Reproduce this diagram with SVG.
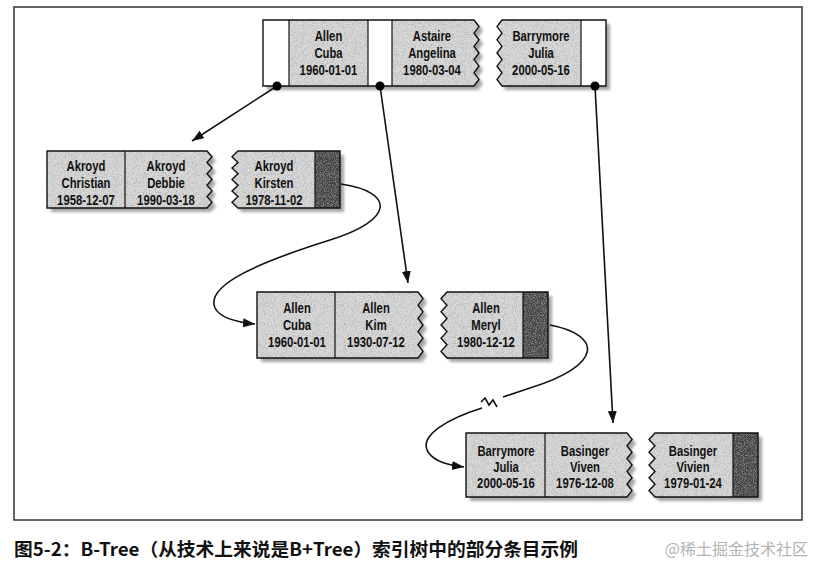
<svg xmlns="http://www.w3.org/2000/svg" xmlns:xlink="http://www.w3.org/1999/xlink" width="816" height="562" viewBox="0 0 816 562">
<style>
.t{font-family:"Liberation Sans","Arimo",sans-serif;font-weight:bold;font-size:15.5px;fill:#111;text-anchor:middle}
.lt{fill:#d8d8d8;filter:url(#grain)}
.dk{fill:#454545;filter:url(#grain)}
.wh{fill:#fff}
.ol{fill:none;stroke:#111;stroke-width:1.4;stroke-linejoin:miter}
.dv{stroke:#111;stroke-width:1.2}
.sh{fill:#a4a4a4;filter:url(#blur)}
.cn{fill:none;stroke:#111;stroke-width:1.6}
</style>
<defs>
<filter id="grain" x="0" y="0" width="1" height="1">
<feTurbulence type="fractalNoise" baseFrequency="1.1" numOctaves="1" seed="4" result="n"/>
<feColorMatrix in="n" type="matrix" values="0 0 0 0 0.35  0 0 0 0 0.35  0 0 0 0 0.35  0 0 0 -2.4 1.3" result="d"/>
<feComposite in="d" in2="SourceGraphic" operator="in" result="d2"/>
<feMerge><feMergeNode in="SourceGraphic"/><feMergeNode in="d2"/></feMerge>
</filter>
<filter id="blur" x="-10%" y="-10%" width="120%" height="130%"><feGaussianBlur stdDeviation="1.6"/></filter>
<marker id="ah" markerUnits="userSpaceOnUse" markerWidth="14" markerHeight="10" refX="12" refY="4.5" orient="auto"><path d="M0,0 L12,4.5 L0,9 Z" fill="#111"/></marker>
<path id="r1a" d="M263,20 H474 L479,26.6 L474,33.2 L479,39.8 L474,46.4 L479,53 L474,59.6 L479,66.2 L474,72.8 L479,79.4 L474,86 H263 Z"/>
<path id="r1b" d="M502,20 H606 V86 H502 L497,79.4 L502,72.8 L497,66.2 L502,59.6 L497,53 L502,46.4 L497,39.8 L502,33.2 L497,26.6 Z"/>
<path id="r2a" d="M47,151 H207 L212,156.7 L207,162.4 L212,168.1 L207,173.8 L212,179.5 L207,185.2 L212,190.9 L207,196.6 L212,202.3 L207,208 H47 Z"/>
<path id="r2b" d="M238,151 H340 V208 H238 L232,202.3 L238,196.6 L232,190.9 L238,185.2 L232,179.5 L238,173.8 L232,168.1 L238,162.4 L232,156.7 Z"/>
<path id="r3a" d="M257,292 H418 L423,298.6 L418,305.2 L423,311.8 L418,318.4 L423,325 L418,331.6 L423,338.2 L418,344.8 L423,351.4 L418,358 H257 Z"/>
<path id="r3b" d="M447,292 H548 V358 H447 L441,351.4 L447,344.8 L441,338.2 L447,331.6 L441,325 L447,318.4 L441,311.8 L447,305.2 L441,298.6 Z"/>
<path id="r4a" d="M466,433 H627 L632,439.4 L627,445.8 L632,452.2 L627,458.6 L632,465 L627,471.4 L632,477.8 L627,484.2 L632,490.6 L627,497 H466 Z"/>
<path id="r4b" d="M655,433 H758 V497 H655 L649,490.6 L655,484.2 L649,477.8 L655,471.4 L649,465 L655,458.6 L649,452.2 L655,445.8 L649,439.4 Z"/>
<clipPath id="c1a"><use xlink:href="#r1a"/></clipPath>
</defs>
<rect x="14" y="7" width="788" height="513" fill="#fff" stroke="#333" stroke-width="1.5"/>

<g id="root-left">
<use xlink:href="#r1a" class="sh" transform="translate(4,4)"/>
<use xlink:href="#r1a" class="lt"/>
<g clip-path="url(#c1a)"><rect x="263" y="20" width="26" height="66" class="wh"/><rect x="368" y="20" width="24" height="66" class="wh"/></g>
<use xlink:href="#r1a" class="ol"/>
<line x1="289" y1="20" x2="289" y2="86" class="dv"/><line x1="368" y1="20" x2="368" y2="86" class="dv"/><line x1="392" y1="20" x2="392" y2="86" class="dv"/>
<text class="t" transform="matrix(0.73 0 0 1 328.5 41)">Allen</text><text class="t" transform="matrix(0.73 0 0 1 328.5 58)">Cuba</text><text class="t" transform="matrix(0.73 0 0 1 328.5 75)">1960-01-01</text>
<text class="t" transform="matrix(0.73 0 0 1 432 41)">Astaire</text><text class="t" transform="matrix(0.73 0 0 1 432 58)">Angelina</text><text class="t" transform="matrix(0.73 0 0 1 432 75)">1980-03-04</text>
</g>
<g id="root-right">
<use xlink:href="#r1b" class="sh" transform="translate(4,4)"/>
<use xlink:href="#r1b" class="lt"/>
<rect x="581" y="20" width="25" height="66" class="wh"/>
<use xlink:href="#r1b" class="ol"/>
<line x1="581" y1="20" x2="581" y2="86" class="dv"/>
<text class="t" transform="matrix(0.73 0 0 1 541 41)">Barrymore</text><text class="t" transform="matrix(0.73 0 0 1 541 58)">Julia</text><text class="t" transform="matrix(0.73 0 0 1 541 75)">2000-05-16</text>
</g>

<g id="akroyd-left">
<use xlink:href="#r2a" class="sh" transform="translate(4,4)"/>
<use xlink:href="#r2a" class="lt"/>
<use xlink:href="#r2a" class="ol"/>
<line x1="125" y1="151" x2="125" y2="208" class="dv"/>
<text class="t" transform="matrix(0.73 0 0 1 86 171)">Akroyd</text><text class="t" transform="matrix(0.73 0 0 1 86 188)">Christian</text><text class="t" transform="matrix(0.73 0 0 1 86 205)">1958-12-07</text>
<text class="t" transform="matrix(0.73 0 0 1 166 171)">Akroyd</text><text class="t" transform="matrix(0.73 0 0 1 166 188)">Debbie</text><text class="t" transform="matrix(0.73 0 0 1 166 205)">1990-03-18</text>
</g>
<g id="akroyd-right">
<use xlink:href="#r2b" class="sh" transform="translate(4,4)"/>
<use xlink:href="#r2b" class="lt"/>
<rect x="315" y="151" width="25" height="57" class="dk"/>
<use xlink:href="#r2b" class="ol"/>
<line x1="315" y1="151" x2="315" y2="208" class="dv"/>
<text class="t" transform="matrix(0.73 0 0 1 274 171)">Akroyd</text><text class="t" transform="matrix(0.73 0 0 1 274 188)">Kirsten</text><text class="t" transform="matrix(0.73 0 0 1 274 205)">1978-11-02</text>
</g>

<g id="allen-left">
<use xlink:href="#r3a" class="sh" transform="translate(4,4)"/>
<use xlink:href="#r3a" class="lt"/>
<use xlink:href="#r3a" class="ol"/>
<line x1="335" y1="292" x2="335" y2="358" class="dv"/>
<text class="t" transform="matrix(0.73 0 0 1 297 313)">Allen</text><text class="t" transform="matrix(0.73 0 0 1 297 330)">Cuba</text><text class="t" transform="matrix(0.73 0 0 1 297 347)">1960-01-01</text>
<text class="t" transform="matrix(0.73 0 0 1 376 313)">Allen</text><text class="t" transform="matrix(0.73 0 0 1 376 330)">Kim</text><text class="t" transform="matrix(0.73 0 0 1 376 347)">1930-07-12</text>
</g>
<g id="allen-right">
<use xlink:href="#r3b" class="sh" transform="translate(4,4)"/>
<use xlink:href="#r3b" class="lt"/>
<rect x="523" y="292" width="25" height="66" class="dk"/>
<use xlink:href="#r3b" class="ol"/>
<line x1="523" y1="292" x2="523" y2="358" class="dv"/>
<text class="t" transform="matrix(0.73 0 0 1 486 313)">Allen</text><text class="t" transform="matrix(0.73 0 0 1 486 330)">Meryl</text><text class="t" transform="matrix(0.73 0 0 1 486 347)">1980-12-12</text>
</g>

<g id="barrymore-left">
<use xlink:href="#r4a" class="sh" transform="translate(4,4)"/>
<use xlink:href="#r4a" class="lt"/>
<use xlink:href="#r4a" class="ol"/>
<line x1="545" y1="433" x2="545" y2="497" class="dv"/>
<text class="t" transform="matrix(0.73 0 0 1 506 456)">Barrymore</text><text class="t" transform="matrix(0.73 0 0 1 506 472)">Julia</text><text class="t" transform="matrix(0.73 0 0 1 506 488)">2000-05-16</text>
<text class="t" transform="matrix(0.73 0 0 1 585 456)">Basinger</text><text class="t" transform="matrix(0.73 0 0 1 585 472)">Viven</text><text class="t" transform="matrix(0.73 0 0 1 585 488)">1976-12-08</text>
</g>
<g id="basinger-right">
<use xlink:href="#r4b" class="sh" transform="translate(4,4)"/>
<use xlink:href="#r4b" class="lt"/>
<rect x="733" y="433" width="25" height="64" class="dk"/>
<use xlink:href="#r4b" class="ol"/>
<line x1="733" y1="433" x2="733" y2="497" class="dv"/>
<text class="t" transform="matrix(0.73 0 0 1 693 456)">Basinger</text><text class="t" transform="matrix(0.73 0 0 1 693 472)">Vivien</text><text class="t" transform="matrix(0.73 0 0 1 693 488)">1979-01-24</text>
</g>

<g id="connectors">
<line x1="277" y1="86" x2="192" y2="141" class="cn" marker-end="url(#ah)"/>
<line x1="380" y1="86" x2="408" y2="283" class="cn" marker-end="url(#ah)"/>
<line x1="595" y1="86" x2="613" y2="423" class="cn" marker-end="url(#ah)"/>
<path d="M341,184 C395,192 395,220 330,240 C260,262 205,285 215,308 C220,318 235,322 255,324" class="cn" marker-end="url(#ah)"/>
<path d="M550,325 C602,335 604,365 530,388 L503,397" class="cn"/>
<polyline points="481,402 485,398 489,405 493,400 497,407" class="cn"/>
<path d="M482,408 C450,418 418,435 428,452 C435,462 448,465 464,467" class="cn" marker-end="url(#ah)"/>
<circle cx="277" cy="86" r="4.5" fill="#000"/>
<circle cx="380" cy="86" r="4.5" fill="#000"/>
<circle cx="595" cy="86" r="4.5" fill="#000"/>
</g>

<text x="14" y="556" font-family="'Noto Sans CJK SC',sans-serif" font-weight="bold" font-size="18" fill="#111" textLength="564" lengthAdjust="spacingAndGlyphs">图5-2：B-Tree（从技术上来说是B+Tree）索引树中的部分条目示例</text>
<text x="808" y="555" text-anchor="end" font-family="'Noto Sans CJK SC',sans-serif" font-size="16" fill="#b4b4b4">@稀土掘金技术社区</text>
</svg>
